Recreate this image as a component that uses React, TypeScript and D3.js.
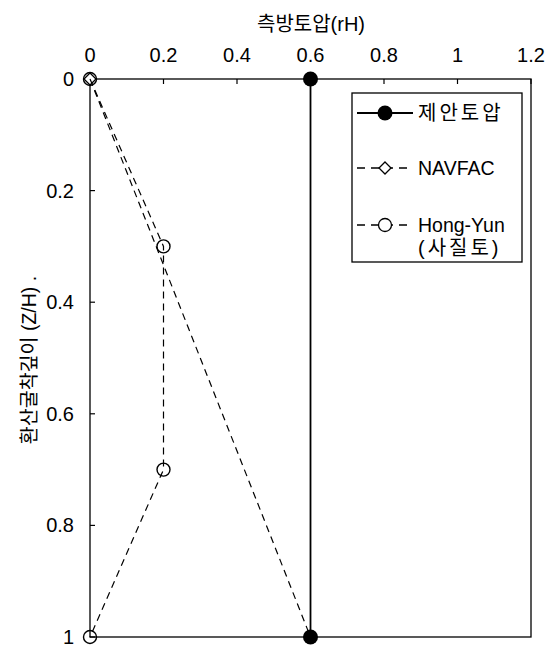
import React from "react";
import * as d3 from "d3";

// Depth ratio (Z/H) and lateral pressure (rH) for each distribution
const proposedDepth = [0, 1];
const proposedPressure = [0.6, 0.6];
const navfacDepth = [0, 1];
const navfacPressure = [0, 0.6];
const hongYunDepth = [0, 0.3, 0.7, 1];
const hongYunPressure = [0, 0.2, 0.2, 0];

const xTicks = [0, 0.2, 0.4, 0.6, 0.8, 1, 1.2];
const yTicks = [0, 0.2, 0.4, 0.6, 0.8, 1];

const xTitle = "측방토압(rH)";
const yTitle = "환산굴착깊이 (Z/H) .";
const legendLabels = ["제안토압", "NAVFAC", "Hong-Yun", "(사질토)"];

const W = 558;
const H = 648;
const left = 90;
const right = 531;
const top = 79;
const bottom = 637;

const FONT = "'Liberation Sans', Arial, 'Noto Sans CJK KR', sans-serif";

export default function App() {
  const x = d3.scaleLinear().domain([0, 1.2]).range([left, right]);
  const y = d3.scaleLinear().domain([0, 1]).range([top, bottom]);
  const line = d3
    .line<[number, number]>()
    .x((d) => x(d[0]))
    .y((d) => y(d[1]));

  const proposed = proposedDepth.map((z, i) => [proposedPressure[i], z] as [number, number]);
  const navfac = navfacDepth.map((z, i) => [navfacPressure[i], z] as [number, number]);
  const hongYun = hongYunDepth.map((z, i) => [hongYunPressure[i], z] as [number, number]);

  const dash = "7,5";
  const diamond = (cx: number, cy: number, r: number) =>
    `M${cx},${cy - r}L${cx + r},${cy}L${cx},${cy + r}L${cx - r},${cy}Z`;

  // legend layout
  const lgX = 352;
  const lgY = 93;
  const lgW = 170;
  const lgH = 169;
  const sx0 = 357;
  const sx1 = 413;
  const sxm = 385;
  const tx = 418;
  const rows = [113, 168, 225];

  return (
    <svg
      width={W}
      height={H}
      style={{ position: "absolute", left: 0, top: 0, background: "#fff" }}
      fontFamily={FONT}
    >
      <rect x={0} y={0} width={W} height={H} fill="#fff" />
      {/* frame */}
      <rect
        x={left}
        y={top}
        width={right - left}
        height={bottom - top}
        fill="none"
        stroke="#000"
        strokeWidth={1.3}
      />
      {/* top axis ticks and labels */}
      {xTicks.map((t) => (
        <g key={"x" + t}>
          <line x1={x(t)} x2={x(t)} y1={top} y2={top + 5} stroke="#000" strokeWidth={1.2} />
          <text x={x(t)} y={62} textAnchor="middle" fontSize={20} fill="#000">
            {String(t)}
          </text>
        </g>
      ))}
      <text x={311} y={31} textAnchor="middle" fontSize={20} fill="#000">
        {xTitle}
      </text>
      {/* left axis ticks and labels */}
      {yTicks.map((t) => (
        <g key={"y" + t}>
          <line x1={left} x2={left + 5} y1={y(t)} y2={y(t)} stroke="#000" strokeWidth={1.2} />
          <text x={74} y={y(t) + 7} textAnchor="end" fontSize={20} fill="#000">
            {String(t)}
          </text>
        </g>
      ))}
      <text
        transform={`translate(36,360) rotate(-90)`}
        textAnchor="middle"
        fontSize={19.5}
        fill="#000"
      >
        {yTitle}
      </text>

      {/* NAVFAC */}
      <path d={line(navfac) || ""} fill="none" stroke="#000" strokeWidth={1.2} strokeDasharray={dash} />
      {navfac.map((d, i) => (
        <path key={"nd" + i} d={diamond(x(d[0]), y(d[1]), 6)} fill="#fff" stroke="#000" strokeWidth={1.3} />
      ))}
      {/* Hong-Yun */}
      <path d={line(hongYun) || ""} fill="none" stroke="#000" strokeWidth={1.2} strokeDasharray={dash} />
      {hongYun.map((d, i) => (
        <circle key={"hc" + i} cx={x(d[0])} cy={y(d[1])} r={6.5} fill="none" stroke="#000" strokeWidth={1.4} />
      ))}
      {/* proposed */}
      <path d={line(proposed) || ""} fill="none" stroke="#000" strokeWidth={1.8} />
      {proposed.map((d, i) => (
        <circle key={"pc" + i} cx={x(d[0])} cy={y(d[1])} r={7.5} fill="#000" />
      ))}

      {/* legend */}
      <rect x={lgX} y={lgY} width={lgW} height={lgH} fill="#fff" stroke="#000" strokeWidth={1.3} />
      <line x1={sx0} x2={sx1} y1={rows[0]} y2={rows[0]} stroke="#000" strokeWidth={1.8} />
      <circle cx={sxm} cy={rows[0]} r={7.5} fill="#000" />
      <text x={tx} y={rows[0] + 7} fontSize={20} fill="#000" letterSpacing={3}>
        {legendLabels[0]}
      </text>
      <line x1={sx0} x2={sx1} y1={rows[1]} y2={rows[1]} stroke="#000" strokeWidth={1.4} strokeDasharray="8,6" />
      <path d={diamond(sxm, rows[1], 6)} fill="#fff" stroke="#000" strokeWidth={1.3} />
      <text x={tx} y={rows[1] + 7} fontSize={19.5} fill="#000">
        {legendLabels[1]}
      </text>
      <line x1={sx0} x2={sx1} y1={rows[2]} y2={rows[2]} stroke="#000" strokeWidth={1.4} strokeDasharray="8,6" />
      <circle cx={sxm} cy={rows[2]} r={6.5} fill="#fff" stroke="#000" strokeWidth={1.3} />
      <text x={tx} y={rows[2] + 7} fontSize={19.5} fill="#000">
        {legendLabels[2]}
      </text>
      <text x={tx} y={rows[2] + 30} fontSize={20} fill="#000" letterSpacing={3}>
        {legendLabels[3]}
      </text>
    </svg>
  );
}
